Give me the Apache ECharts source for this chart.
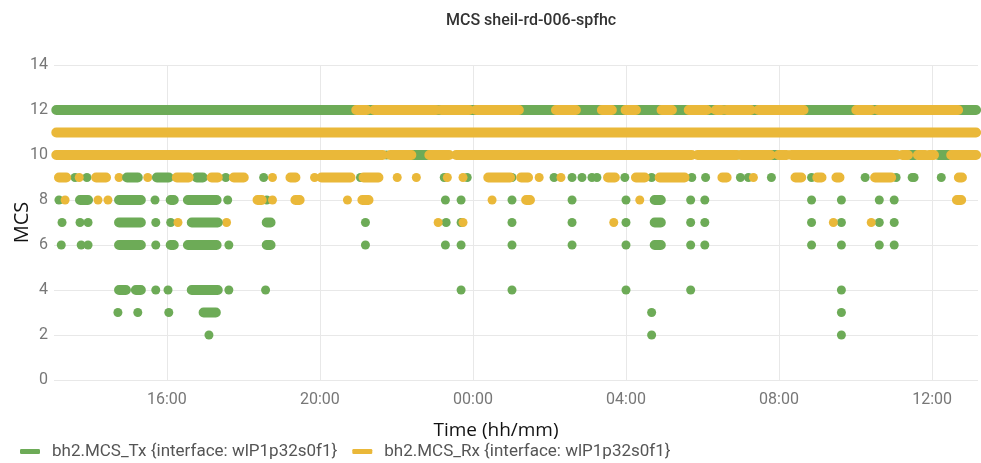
<!DOCTYPE html>
<html>
<head>
<meta charset="utf-8">
<title>MCS sheil-rd-006-spfhc</title>
<script src="https://cdn.jsdelivr.net/npm/echarts@6/dist/echarts.min.js"></script>
<style>
  html, body { margin: 0; padding: 0; background: #fff; }
  #mcs_chart { width: 981px; height: 463px; }
</style>
</head>
<body>
<div id="mcs_chart"></div>
<script>
// time is in hours counted from 00:00 of the first day (24 = next midnight)
var TX_NAME = "bh2.MCS_Tx {interface: wlP1p32s0f1}";
var RX_NAME = "bh2.MCS_Rx {interface: wlP1p32s0f1}";
var xTicks = [16, 20, 24, 28, 32, 36];

// dense stretches: [mcs, from, to]
var txRuns = [
  [12, 13.11, 37.15],
  [10, 22.41, 22.81], [10, 31.83, 31.93], [10, 35.43, 35.56], [10, 36.16, 36.44],
  [9, 14.96, 15.24], [9, 15.74, 16.05], [9, 16.78, 16.94],
  [8, 13.73, 13.94], [8, 14.75, 15.32], [8, 16.10, 16.18], [8, 16.55, 17.30], [8, 28.75, 28.91],
  [7, 14.75, 15.32], [7, 16.65, 17.33], [7, 18.61, 18.71], [7, 28.75, 28.91],
  [6, 14.75, 15.32], [6, 16.10, 16.18], [6, 16.55, 17.30], [6, 18.61, 18.71], [6, 28.75, 28.91],
  [4, 14.75, 14.93], [4, 15.19, 15.32], [4, 16.65, 17.33],
  [3, 16.96, 17.28]
];
var rxRuns = [
  [12, 20.95, 21.22], [12, 21.42, 23.04], [12, 23.17, 23.90], [12, 24.08, 25.20],
  [12, 26.17, 26.69], [12, 27.37, 27.63], [12, 27.99, 28.26], [12, 28.93, 29.20],
  [12, 29.64, 30.11], [12, 30.35, 30.50], [12, 30.63, 31.26], [12, 31.46, 32.64],
  [12, 34.02, 34.41], [12, 34.59, 36.68],
  [11, 13.11, 37.15],
  [10, 13.11, 21.64], [10, 21.84, 22.39], [10, 22.86, 23.38], [10, 23.56, 29.72],
  [10, 29.87, 30.89], [10, 31.00, 31.78], [10, 31.99, 32.20], [10, 32.32, 35.06],
  [10, 35.22, 35.37], [10, 35.63, 35.82], [10, 35.92, 36.05], [10, 36.50, 37.15],
  [9, 13.18, 13.37], [9, 14.15, 14.41], [9, 16.26, 16.57], [9, 17.17, 17.33],
  [9, 17.75, 18.01], [9, 19.23, 19.36], [9, 20.04, 20.80], [9, 21.14, 21.53],
  [9, 24.40, 24.97], [9, 25.26, 25.44], [9, 27.53, 27.71], [9, 28.26, 28.49],
  [9, 28.88, 29.53], [9, 30.52, 30.63], [9, 32.43, 32.58], [9, 33.00, 33.11],
  [9, 33.50, 33.58], [9, 34.51, 34.93], [9, 36.70, 36.78],
  [8, 18.37, 18.48], [8, 19.36, 19.47], [8, 21.11, 21.27], [8, 25.39, 25.49], [8, 36.65, 36.76]
];

// single samples: [time, mcs]
var txDots = [
  [21.74, 10], [30.92, 10], [35.11, 10],
  [13.60, 9], [13.91, 9], [17.54, 9], [18.53, 9], [21.06, 9], [23.25, 9], [23.85, 9],
  [25.02, 9], [26.12, 9], [26.59, 9], [26.85, 9], [27.11, 9], [27.24, 9], [27.97, 9],
  [28.67, 9], [29.72, 9], [30.08, 9], [30.99, 9], [31.20, 9], [31.80, 9], [32.85, 9],
  [34.25, 9], [34.59, 9], [35.06, 9], [35.48, 9], [35.53, 9], [36.24, 9],
  [13.18, 8], [15.69, 8], [17.59, 8], [18.61, 8], [21.21, 8], [23.28, 8], [23.69, 8],
  [25.02, 8], [26.59, 8], [28.00, 8], [29.69, 8], [30.06, 8], [32.85, 8], [33.63, 8],
  [34.62, 8], [35.01, 8],
  [13.26, 7], [13.73, 7], [13.94, 7], [15.71, 7], [16.10, 7], [21.19, 7], [23.30, 7],
  [23.69, 7], [25.02, 7], [26.59, 7], [28.00, 7], [29.69, 7], [30.06, 7], [32.85, 7],
  [33.63, 7], [34.62, 7], [35.01, 7],
  [13.24, 6], [13.76, 6], [13.94, 6], [15.71, 6], [17.62, 6], [21.19, 6], [23.28, 6],
  [23.69, 6], [25.02, 6], [26.59, 6], [28.00, 6], [29.69, 6], [30.06, 6], [32.85, 6],
  [33.63, 6], [34.62, 6], [35.01, 6],
  [15.71, 4], [16.03, 4], [17.62, 4], [18.58, 4], [23.69, 4], [25.02, 4], [28.00, 4],
  [29.69, 4], [33.63, 4],
  [14.72, 3], [15.24, 3], [16.05, 3], [28.67, 3], [33.63, 3],
  [17.10, 2], [28.67, 2], [33.63, 2]
];
var rxDots = [
  [19.65, 12], [20.22, 12], [25.44, 12], [25.78, 12], [26.95, 12],
  [13.71, 9], [14.75, 9], [15.50, 9], [18.76, 9], [19.86, 9], [22.02, 9], [22.52, 9],
  [23.33, 9], [23.74, 9], [25.73, 9], [26.30, 9], [31.33, 9],
  [13.34, 8], [14.20, 8], [14.46, 8], [18.76, 8], [20.72, 8], [24.50, 8], [28.36, 8],
  [16.29, 7], [17.56, 7], [23.09, 7], [23.74, 7], [27.68, 7], [33.42, 7], [34.41, 7]
];

var green = "#6dab57";
var orange = "#eab839";

function runsToLine(runs) {
  var out = [];
  runs.forEach(function (r) {
    out.push([r[1], r[0]], [r[2], r[0]], [r[2], null]);
  });
  return out;
}
function hhmm(v) {
  var h = Math.round(v) % 24;
  return (h < 10 ? "0" : "") + h + ":00";
}

var myChart = echarts.init(document.getElementById("mcs_chart"));
myChart.setOption({
  animation: false,
  textStyle: { fontFamily: "Roboto" },
  title: {
    text: "MCS sheil-rd-006-spfhc",
    left: 441,
    top: 8,
    textStyle: { fontSize: 16, fontWeight: 500, color: "#333" }
  },
  grid: { left: 54, right: 3, top: 65, bottom: 83, outerBoundsMode: "none" },
  legend: {
    left: 15,
    top: 438,
    icon: "roundRect",
    itemWidth: 20,
    itemHeight: 5,
    itemGap: 15,
    textStyle: { fontSize: 17, color: "#555", padding: [0, 0, 0, 7] },
    data: [
      { name: TX_NAME, itemStyle: { color: green } },
      { name: RX_NAME, itemStyle: { color: orange } }
    ]
  },
  xAxis: {
    type: "value",
    min: 13.05,
    max: 37.2,
    name: "Time (hh/mm)",
    nameLocation: "middle",
    nameGap: 41,
    nameMoveOverlap: false,
    nameTextStyle: { fontSize: 19, color: "#111", fontFamily: "Open Sans", padding: [0, 40, 0, 0] },
    axisLine: { show: false },
    axisTick: { show: false, customValues: xTicks },
    axisLabel: { customValues: xTicks, formatter: hhmm, color: "#777", fontSize: 16, margin: 12 },
    splitLine: { show: true, lineStyle: { color: "#e8e8e8" } }
  },
  yAxis: {
    type: "value",
    min: 0,
    max: 14,
    interval: 2,
    name: "MCS",
    nameLocation: "middle",
    nameGap: 22,
    nameMoveOverlap: false,
    nameTextStyle: { fontSize: 20, color: "#111", fontFamily: "Open Sans" },
    axisLine: { show: false },
    axisTick: { show: false },
    axisLabel: { color: "#777", fontSize: 16, margin: 6 },
    splitLine: { lineStyle: { color: "#e8e8e8" } }
  },
  series: [
    {
      name: TX_NAME, type: "line", data: runsToLine(txRuns),
      symbol: "none", connectNulls: false, color: green,
      lineStyle: { width: 10, cap: "round", color: green }
    },
    {
      name: TX_NAME, type: "scatter", data: txDots, symbolSize: 9,
      color: green, itemStyle: { color: green, opacity: 1 }
    },
    {
      name: RX_NAME, type: "line", data: runsToLine(rxRuns),
      symbol: "none", connectNulls: false, color: orange,
      lineStyle: { width: 10, cap: "round", color: orange }
    },
    {
      name: RX_NAME, type: "scatter", data: rxDots, symbolSize: 9,
      color: orange, itemStyle: { color: orange, opacity: 1 }
    }
  ]
});
</script>
</body>
</html>
